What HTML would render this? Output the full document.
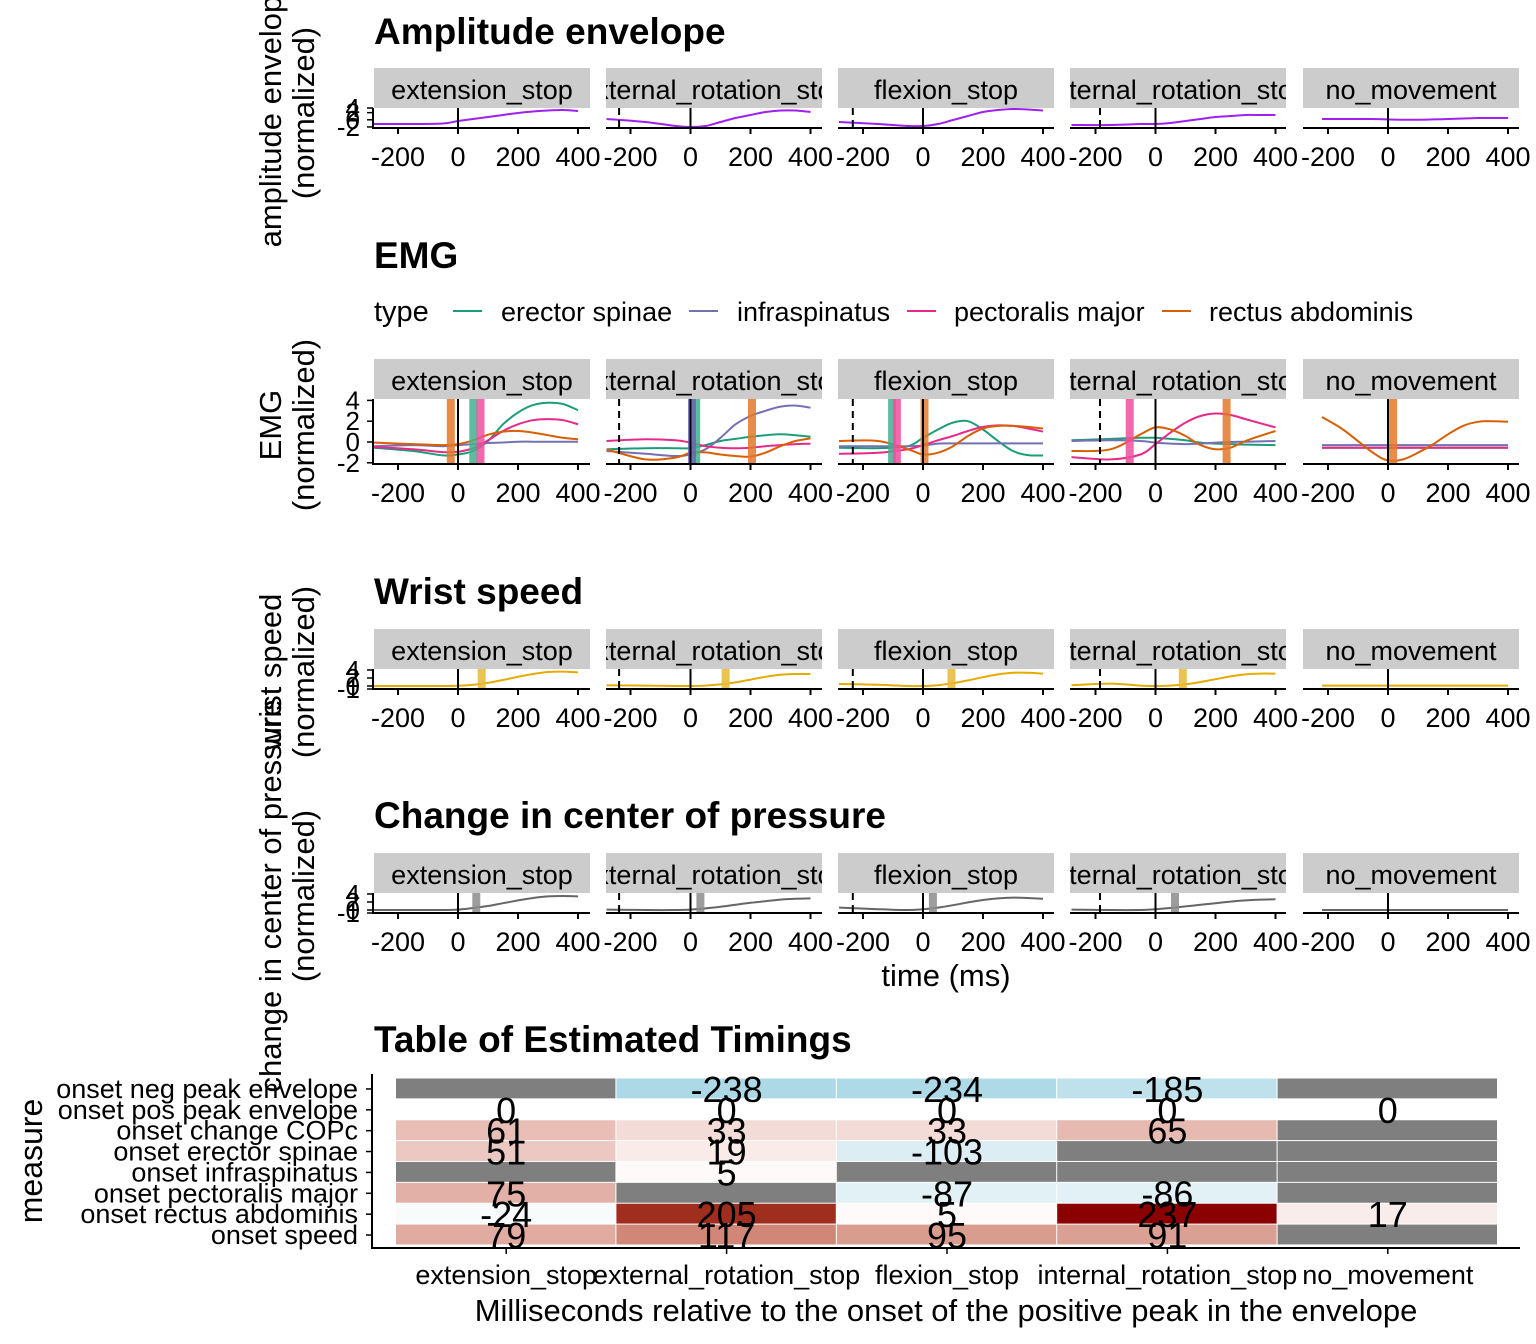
<!DOCTYPE html>
<html><head><meta charset="utf-8">
<style>
html,body{margin:0;padding:0;background:#fff;}
svg{display:block;font-family:"Liberation Sans",sans-serif;}
</style></head>
<body>
<svg id="chart" width="1536" height="1344" viewBox="0 0 1536 1344" xmlns="http://www.w3.org/2000/svg">
<g id="root"></g>
</svg>
<script>
// ---------- data ----------
const panels = ["extension_stop","external_rotation_stop","flexion_stop","internal_rotation_stop","no_movement"];
const T = [-280,-150,-50,0,50,100,150,200,250,300,350,400];
const panelStart = [-280,-280,-280,-280,-220];
const xTicks = [-200,0,200,400];
const emgNames = ["erector spinae","infraspinatus","pectoralis major","rectus abdominis"];
const emgTicks = [4,2,0,-2];
const ampTicks = [-2,0,2,4];
const smallTicks = [-1,0,2,4];

const ampVals = [
 [-1.18,-1.18,-1.04,-0.34,0.22,0.78,1.34,1.9,2.32,2.6,2.74,2.46],
 [0.22,-0.62,-1.74,-2.02,-1.74,-0.62,0.5,1.34,2.18,2.6,2.6,2.18],
 [-0.62,-1.18,-1.74,-1.74,-1.18,-0.06,1.06,2.18,2.74,3.02,2.88,2.6],
 [-1.46,-1.46,-1.18,-1.18,-0.9,-0.34,0.22,0.78,1.06,1.34,1.34,1.34],
 [0.22,0.22,0.22,0.1,0.0,0.0,0.1,0.22,0.36,0.5,0.5,0.5]
];
const erectorVals = [
 [-0.55,-0.87,-1.29,-1.2,-0.87,0.1,1.7,2.84,3.55,3.77,3.65,3.06],
 [-0.7,-0.6,-0.6,-0.6,-0.3,0.1,0.3,0.5,0.65,0.75,0.65,0.5],
 [-0.55,-0.6,-0.4,0.4,1.2,1.87,2.0,1.2,0.1,-0.87,-1.26,-1.3],
 [0.16,0.3,0.4,0.4,0.3,0.16,-0.06,-0.15,-0.2,-0.25,-0.28,-0.3],
 [-0.55,-0.55,-0.55,-0.55,-0.55,-0.55,-0.55,-0.55,-0.55,-0.55,-0.55,-0.55]
];
const infraVals = [
 [-0.4,-0.3,-0.4,-0.3,-0.2,-0.1,-0.05,0.03,0.03,0.03,0.03,0.03],
 [-0.87,-1.13,-1.35,-1.2,-0.7,0.4,1.7,2.5,3.0,3.4,3.5,3.3],
 [-0.4,-0.4,-0.4,-0.35,-0.15,-0.13,-0.13,-0.13,-0.13,-0.13,-0.13,-0.13],
 [0.1,0.16,0.1,-0.06,-0.15,-0.2,-0.15,-0.06,0.0,0.03,0.06,0.1],
 [-0.3,-0.3,-0.3,-0.3,-0.3,-0.3,-0.3,-0.3,-0.3,-0.3,-0.3,-0.3]
];
const pectVals = [
 [-0.48,-0.7,-0.97,-0.94,-0.6,0.16,1.06,1.7,2.1,2.2,2.1,1.7],
 [0.1,0.26,0.16,-0.06,-0.4,-0.55,-0.6,-0.55,-0.4,-0.3,-0.2,-0.16],
 [-1.13,-1.03,-0.7,-0.3,0.16,0.58,1.06,1.45,1.6,1.55,1.3,1.0],
 [-1.45,-1.67,-1.2,-0.2,0.9,1.87,2.5,2.74,2.6,2.2,1.8,1.4],
 [-0.55,-0.55,-0.55,-0.55,-0.55,-0.55,-0.55,-0.55,-0.55,-0.55,-0.55,-0.55]
];
const rectusVals = [
 [-0.06,-0.2,-0.3,-0.2,0.15,0.7,1.0,1.06,0.9,0.65,0.4,0.26],
 [-0.7,-1.67,-1.5,-1.03,-1.0,-1.2,-1.35,-1.4,-1.03,-0.4,0.1,0.35],
 [0.1,0.1,-0.7,-1.2,-1.03,-0.4,0.58,1.3,1.55,1.55,1.45,1.3],
 [-0.87,-0.7,0.74,1.4,1.2,0.58,-0.3,-0.7,-0.55,0.1,0.6,1.06],
 [2.4,1.2,-1.03,-1.77,-1.67,-1.03,-0.23,0.74,1.55,1.94,2.0,1.95]
];
const wristVals = [
 [0,0,0,0.05,0.3,0.8,1.5,2.3,3.0,3.5,3.6,3.4],
 [0.2,0.1,0,0,0.1,0.4,0.9,1.6,2.3,2.8,3.0,3.0],
 [0.5,0.3,0,0,0.2,0.7,1.4,2.2,2.9,3.3,3.3,3.1],
 [0.2,0.6,0.1,0,0.1,0.4,1.0,1.7,2.4,2.9,3.1,3.1],
 [0.1,0.1,0.1,0.1,0.1,0.1,0.1,0.1,0.1,0.1,0.1,0.1]
];
const copVals = [
 [0,0,0,0.1,0.5,1.0,1.7,2.4,3.0,3.4,3.5,3.4],
 [0.1,0,0,0.1,0.4,0.8,1.3,1.8,2.2,2.6,2.8,2.9],
 [0.6,0.2,0,0.2,0.6,1.2,1.9,2.5,2.9,3.1,3.0,2.8],
 [0.1,0,0,0.2,0.5,0.9,1.3,1.7,2.1,2.4,2.6,2.7],
 [0,0,0,0,0,0,0,0,0,0,0,0]
];
// table of timings (null = NA)
const measures = ["onset neg peak envelope","onset pos peak envelope","onset change COPc","onset erector spinae","onset infraspinatus","onset pectoralis major","onset rectus abdominis","onset speed"];
const negPeak  = [null,-238,-234,-185,null];
const posPeak  = [0,0,0,0,0];
const copOnset = [61,33,33,65,null];
const erectorOnset = [51,19,-103,null,null];
const infraOnset = [null,5,null,null,null];
const pectOnset = [75,null,-87,-86,null];
const rectusOnset = [-24,205,5,237,17];
const speedOnset = [79,117,95,91,null];

// ---------- helpers ----------
const NS="http://www.w3.org/2000/svg";
const root=document.getElementById('root');
function mk(tag,attrs,parent,text){const e=document.createElementNS(NS,tag);for(const k in attrs)e.setAttribute(k,attrs[k]);if(text!==undefined)e.textContent=text;(parent||root).appendChild(e);return e;}
const stripX0=[374,606,838,1070,1303];
const PW=216;
function xScale(p,t){return 458+232.5*p+t*0.3;}
function smoothPath(pts){let d="M"+pts[0][0].toFixed(1)+","+pts[0][1].toFixed(1);
 for(let i=0;i<pts.length-1;i++){const p0=pts[Math.max(0,i-1)],p1=pts[i],p2=pts[i+1],p3=pts[Math.min(pts.length-1,i+2)];
  const c1=[p1[0]+(p2[0]-p0[0])/6,p1[1]+(p2[1]-p0[1])/6],c2=[p2[0]-(p3[0]-p1[0])/6,p2[1]-(p3[1]-p1[1])/6];
  d+=" C"+c1[0].toFixed(1)+","+c1[1].toFixed(1)+" "+c2[0].toFixed(1)+","+c2[1].toFixed(1)+" "+p2[0].toFixed(1)+","+p2[1].toFixed(1);}
 return d;}
function times(p){const t=T.slice();t[0]=panelStart[p];return t;}

function drawRow(cfg){
 const g=mk('g',{});
 
 
 const tt=mk('text',{x:374,y:cfg.titleY,'font-size':37,'font-weight':'bold',fill:'#000'},g,cfg.title);
 
 
 for(let p=0;p<5;p++){
  const pg=mk('g',{},g);
  
  
  const sx=stripX0[p];
  const strip=mk('rect',{x:sx,y:cfg.top-40,width:PW,height:40,fill:'#cccccc'},pg);
  
  
  const cid='clip-'+cfg.name+p;
  const cp=mk('clipPath',{id:cid},pg);mk('rect',{x:sx,y:cfg.top-40,width:PW,height:40},cp);
  const st=mk('text',{x:sx+PW/2,y:cfg.top-9,'font-size':27,'text-anchor':'middle','clip-path':'url(#'+cid+')'},pg,panels[p]);
  
  
  const pc='pclip-'+cfg.name+p;
  const cp2=mk('clipPath',{id:pc},pg);mk('rect',{x:sx,y:cfg.top,width:PW,height:cfg.bottom-cfg.top},cp2);
  const plot=mk('g',{'clip-path':'url(#'+pc+')'},pg);
  const tt2=times(p);
  cfg.series.forEach(s=>{const pts=s.vals[p].map((v,i)=>[xScale(p,tt2[i]),cfg.yScale(v)]);
   const path=mk('path',{d:smoothPath(pts),fill:'none',stroke:s.color,'stroke-width':2},plot);
   
   });
  cfg.bands.forEach(b=>{const v=b.vals[p];if(v===null)return;
   const r=mk('rect',{x:xScale(p,v)-4,y:cfg.top,width:8,height:cfg.bottom-cfg.top,fill:b.color,opacity:0.85},plot);
   
   });
  const zl=mk('line',{x1:xScale(p,posPeak[p]),x2:xScale(p,posPeak[p]),y1:cfg.top,y2:cfg.bottom,stroke:'#000','stroke-width':2},plot);
  
  
  if(negPeak[p]!==null){const nl=mk('line',{x1:xScale(p,negPeak[p]),x2:xScale(p,negPeak[p]),y1:cfg.top,y2:cfg.bottom,stroke:'#000','stroke-width':2,'stroke-dasharray':'7,5'},plot);
   
   }
  const ax=mk('line',{x1:sx,x2:sx+PW,y1:cfg.bottom,y2:cfg.bottom,stroke:'#000','stroke-width':2},pg);
  
  
  xTicks.forEach(t=>{const x=xScale(p,t);mk('line',{x1:x,x2:x,y1:cfg.bottom,y2:cfg.bottom+6,stroke:'#000','stroke-width':2},pg);
   const tl=mk('text',{x:x,y:cfg.bottom+38,'font-size':27,'text-anchor':'middle'},pg,String(t));
   
   });
 }
 const ya=mk('line',{x1:373,x2:373,y1:cfg.top,y2:cfg.bottom+1,stroke:'#000','stroke-width':2},g);
 
 
 cfg.yTicks.forEach(v=>{const y=Math.max(cfg.top,Math.min(cfg.bottom,cfg.yScale(v)));mk('line',{x1:367,x2:373,y1:y,y2:y,stroke:'#000','stroke-width':1.5},g);
  const yl=mk('text',{x:360,y:y+9,'font-size':26,'text-anchor':'end'},g,String(v));
  
  });
 const yt=mk('text',{transform:'translate(281,'+cfg.axisLabelY+') rotate(-90)','font-size':31,'text-anchor':'middle'},g);
 
 
 mk('tspan',{x:0,y:0},yt,cfg.axisLabel);
 mk('tspan',{x:0,y:33},yt,'(normalized)');
}

const C={erector:'#1b9e77',infra:'#7570b3',pect:'#e7298a',rectus:'#d95f02'};
drawRow({name:'amplitude',title:'Amplitude envelope',titleY:44,top:108,bottom:128,
 yScale:v=>128-(v+2.3)*3.57,yTicks:ampTicks,axisLabel:'amplitude envelope',axisLabelY:113,
 series:[{vals:ampVals,color:'#a020f0',name:'amplitude'}],bands:[]});
drawRow({name:'emg',title:'EMG',titleY:268,top:399,bottom:464,
 yScale:v=>442-v*10.4,yTicks:emgTicks,axisLabel:'EMG',axisLabelY:425,
 series:[{vals:erectorVals,color:C.erector,name:'erector-spinae'},{vals:infraVals,color:C.infra,name:'infraspinatus'},{vals:pectVals,color:C.pect,name:'pectoralis-major'},{vals:rectusVals,color:C.rectus,name:'rectus-abdominis'}],
 bands:[{vals:erectorOnset,color:'#3fb08c',name:'erector'},{vals:infraOnset,color:'#6b63b0',name:'infraspinatus'},{vals:pectOnset,color:'#ef4f9e',name:'pectoralis'},{vals:rectusOnset,color:'#e3782a',name:'rectus'}]});
drawRow({name:'wrist-speed',title:'Wrist speed',titleY:604,top:669,bottom:689,
 yScale:v=>686-v*4,yTicks:smallTicks,axisLabel:'wrist speed',axisLabelY:672,
 series:[{vals:wristVals,color:'#e6ab02',name:'speed'}],bands:[{vals:speedOnset,color:'#e8b832',name:'speed'}]});
drawRow({name:'cop',title:'Change in center of pressure',titleY:828,top:893,bottom:913,
 yScale:v=>910-v*4,yTicks:smallTicks,axisLabel:'change in center of pressure',axisLabelY:896,
 series:[{vals:copVals,color:'#666666',name:'cop'}],bands:[{vals:copOnset,color:'#8c8c8c',name:'cop'}]});

// legend
(function(){
 const g=mk('g',{});
 
 
 mk('text',{x:374,y:321,'font-size':29},g,'type');
 const items=[[453,501,C.erector],[689,737,C.infra],[907,954,C.pect],[1162,1209,C.rectus]];
 items.forEach((it,i)=>{
  const e=mk('g',{},g);
  
  
  mk('line',{x1:it[0],x2:it[0]+29,y1:311,y2:311,stroke:it[2],'stroke-width':2},e);
  mk('text',{x:it[1],y:321,'font-size':27},e,emgNames[i]);});
})();
const tx=mk('text',{x:946,y:986,'font-size':31,'text-anchor':'middle'},root,'time (ms)');



// table
(function(){
 const g=mk('g',{});
 
 
 const tt=mk('text',{x:374,y:1052,'font-size':37,'font-weight':'bold'},g,'Table of Estimated Timings');
 
 
 const rows=[negPeak,posPeak,copOnset,erectorOnset,infraOnset,pectOnset,rectusOnset,speedOnset];
 const x0=396,cw=220.4,y0=1078.5,rh=20.87;
 const posStops=[[0,[255,255,255]],[0.26,[232,189,181]],[0.49,[208,136,120]],[0.86,[160,48,32]],[1,[139,0,0]]];
 function col(v){if(v===null)return '#7f7f7f';
  if(v>=0){const t=Math.min(1,v/237);let k=0;while(k<posStops.length-2&&t>posStops[k+1][0])k++;
   const a=posStops[k],b=posStops[k+1],f=(t-a[0])/(b[0]-a[0]);
   const c=a[1].map((x,i)=>Math.round(x+(b[1][i]-x)*f));return 'rgb('+c.join(',')+')';}
  const t=Math.min(1,-v/238);return 'rgb('+Math.round(255-82*t)+','+Math.round(255-39*t)+','+Math.round(255-25*t)+')';}
 rows.forEach((r,i)=>{r.forEach((v,j)=>{
  const c=mk('rect',{x:x0+j*cw,y:y0+i*rh,width:cw-1,height:rh-1,fill:col(v)},g);
  
  });});
 rows.forEach((r,i)=>{r.forEach((v,j)=>{if(v===null)return;
  const t=mk('text',{x:x0+j*cw+cw/2,y:y0+i*rh+rh/2+13,'font-size':36,'text-anchor':'middle'},g,String(v));
  
  });});
 mk('line',{x1:372,x2:372,y1:1074,y2:1249,stroke:'#000','stroke-width':2},g);
 mk('line',{x1:371,x2:1520,y1:1248,y2:1248,stroke:'#000','stroke-width':2},g);
 measures.forEach((m,i)=>{const y=y0+i*rh+rh/2;mk('line',{x1:366,x2:372,y1:y,y2:y,stroke:'#000','stroke-width':1.5},g);
  const l=mk('text',{x:358,y:y+9,'font-size':27,'text-anchor':'end'},g,m);
  
  });
 panels.forEach((p,j)=>{const x=x0+j*cw+cw/2;mk('line',{x1:x,x2:x,y1:1248,y2:1254,stroke:'#000','stroke-width':1.5},g);
  const l=mk('text',{x:x,y:1284,'font-size':27,'text-anchor':'middle'},g,p);
  
  });
 const xt=mk('text',{x:946,y:1321,'font-size':31,'text-anchor':'middle'},g,'Milliseconds relative to the onset of the positive peak in the envelope');
 
 
 const yt=mk('text',{transform:'translate(42,1161) rotate(-90)','font-size':32,'text-anchor':'middle'},g,'measure');
 
 
})();
</script>
</body></html>
